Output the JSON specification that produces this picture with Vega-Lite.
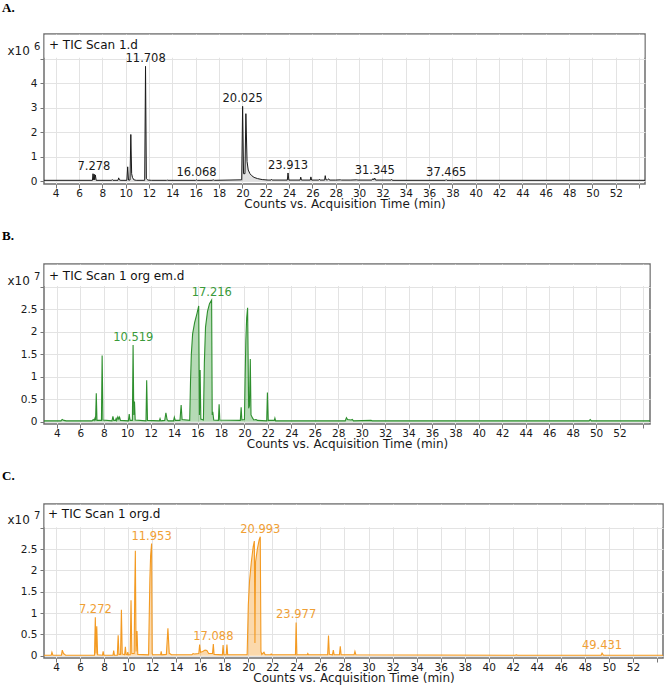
{
"$schema": "https://vega.github.io/schema/vega-lite/v6.json",
"background": "white",
"padding": {"left": 1, "top": 1, "right": 0, "bottom": 0},
"spacing": 18,
"config": {
  "font": "DejaVu Sans",
  "view": {"stroke": "#6e6e6e", "strokeWidth": 1.5},
  "axis": {"grid": true, "gridColor": "#e3e3e3", "gridWidth": 1, "domain": false, "tickColor": "#777", "tickSize": 4, "tickCount": 100, "labelOverlap": false, "labelFontSize": 10.5, "labelColor": "#1a1a1a", "labelPadding": 2, "titleFontSize": 11, "titleFontWeight": "normal", "titleColor": "#1a1a1a", "labelBound": false, "labelFlush": false},
  "axisX": {"titlePadding": 0, "labelPadding": 0, "titleFontSize": 12, "format": "d"},
  "axisY": {"labelPadding": 3, "titleFontSize": 12},
  "title": {"font": "Liberation Serif", "fontWeight": "bold", "fontSize": 13, "anchor": "start", "color": "#000"}
},
"datasets": {
  "one": [{}],
  "a": [{"t":3.0,"v":0.03},{"t":7.15,"v":0.03},{"t":7.2,"v":0.3},{"t":7.25,"v":0.05},{"t":7.3,"v":0.28},{"t":7.34,"v":0.05},{"t":7.4,"v":0.25},{"t":7.47,"v":0.03},{"t":8.8,"v":0.03},{"t":8.85,"v":0.06},{"t":8.9,"v":0.03},{"t":9.34,"v":0.03},{"t":9.4,"v":0.13},{"t":9.47,"v":0.04},{"t":9.6,"v":0.03},{"t":10.1,"v":0.03},{"t":10.17,"v":0.58},{"t":10.24,"v":0.04},{"t":10.37,"v":0.04},{"t":10.44,"v":1.9},{"t":10.51,"v":0.3},{"t":10.58,"v":0.15},{"t":10.7,"v":0.05},{"t":10.9,"v":0.03},{"t":11.63,"v":0.03},{"t":11.7,"v":4.68},{"t":11.77,"v":0.1},{"t":11.9,"v":0.04},{"t":12.2,"v":0.03},{"t":13.5,"v":0.03},{"t":13.55,"v":0.05},{"t":13.6,"v":0.03},{"t":16.0,"v":0.03},{"t":16.07,"v":0.05},{"t":16.14,"v":0.03},{"t":17.4,"v":0.03},{"t":17.5,"v":0.05},{"t":17.6,"v":0.03},{"t":19.94,"v":0.05},{"t":20.02,"v":3.05},{"t":20.1,"v":0.3},{"t":20.22,"v":0.3},{"t":20.3,"v":2.75},{"t":20.4,"v":0.8},{"t":20.5,"v":0.45},{"t":20.65,"v":0.3},{"t":20.8,"v":0.22},{"t":21.0,"v":0.15},{"t":21.3,"v":0.1},{"t":21.7,"v":0.06},{"t":22.2,"v":0.04},{"t":22.45,"v":0.04},{"t":22.5,"v":0.07},{"t":22.55,"v":0.04},{"t":23.85,"v":0.04},{"t":23.91,"v":0.33},{"t":23.98,"v":0.04},{"t":24.95,"v":0.04},{"t":25.0,"v":0.16},{"t":25.06,"v":0.04},{"t":25.82,"v":0.04},{"t":25.87,"v":0.17},{"t":25.93,"v":0.04},{"t":26.55,"v":0.04},{"t":26.6,"v":0.07},{"t":26.65,"v":0.04},{"t":27.05,"v":0.04},{"t":27.1,"v":0.22},{"t":27.16,"v":0.05},{"t":27.3,"v":0.05},{"t":27.4,"v":0.09},{"t":27.46,"v":0.04},{"t":28.0,"v":0.04},{"t":28.4,"v":0.05},{"t":28.5,"v":0.04},{"t":29.3,"v":0.04},{"t":29.8,"v":0.05},{"t":29.9,"v":0.04},{"t":31.1,"v":0.04},{"t":31.2,"v":0.1},{"t":31.26,"v":0.05},{"t":31.345,"v":0.12},{"t":31.41,"v":0.04},{"t":32.75,"v":0.04},{"t":32.8,"v":0.07},{"t":32.85,"v":0.03},{"t":37.4,"v":0.03},{"t":37.46,"v":0.06},{"t":37.52,"v":0.03},{"t":54.5,"v":0.03}],
  "b": [{"t":2.9,"v":0.02},{"t":4.35,"v":0.02},{"t":4.45,"v":0.05},{"t":4.6,"v":0.03},{"t":4.8,"v":0.02},{"t":7.0,"v":0.02},{"t":7.1,"v":0.05},{"t":7.18,"v":0.03},{"t":7.25,"v":0.08},{"t":7.3,"v":0.03},{"t":7.36,"v":0.63},{"t":7.42,"v":0.03},{"t":7.8,"v":0.03},{"t":7.86,"v":1.47},{"t":7.93,"v":0.04},{"t":8.7,"v":0.02},{"t":8.78,"v":0.12},{"t":8.85,"v":0.03},{"t":9.0,"v":0.03},{"t":9.05,"v":0.07},{"t":9.1,"v":0.03},{"t":9.2,"v":0.11},{"t":9.28,"v":0.06},{"t":9.35,"v":0.1},{"t":9.42,"v":0.03},{"t":10.1,"v":0.02},{"t":10.17,"v":0.17},{"t":10.24,"v":0.03},{"t":10.44,"v":0.03},{"t":10.5,"v":1.7},{"t":10.56,"v":0.15},{"t":10.62,"v":0.45},{"t":10.68,"v":0.04},{"t":11.6,"v":0.02},{"t":11.66,"v":0.92},{"t":11.73,"v":0.03},{"t":12.74,"v":0.02},{"t":12.8,"v":0.07},{"t":12.86,"v":0.02},{"t":13.2,"v":0.03},{"t":13.3,"v":0.2},{"t":13.4,"v":0.05},{"t":13.5,"v":0.02},{"t":13.95,"v":0.02},{"t":14.02,"v":0.1},{"t":14.1,"v":0.03},{"t":14.5,"v":0.03},{"t":14.6,"v":0.37},{"t":14.68,"v":0.05},{"t":15.33,"v":0.03},{"t":15.4,"v":0.9},{"t":15.47,"v":1.5},{"t":15.58,"v":1.95},{"t":15.75,"v":2.2},{"t":15.95,"v":2.4},{"t":16.1,"v":2.57},{"t":16.16,"v":0.15},{"t":16.22,"v":1.15},{"t":16.28,"v":0.06},{"t":16.5,"v":0.04},{"t":16.58,"v":1.3},{"t":16.68,"v":2.1},{"t":16.85,"v":2.45},{"t":17.02,"v":2.62},{"t":17.2,"v":2.7},{"t":17.25,"v":0.15},{"t":17.3,"v":0.22},{"t":17.38,"v":0.04},{"t":17.78,"v":0.03},{"t":17.84,"v":0.39},{"t":17.9,"v":0.04},{"t":19.65,"v":0.03},{"t":19.72,"v":0.32},{"t":19.78,"v":0.04},{"t":20.0,"v":0.05},{"t":20.06,"v":1.0},{"t":20.12,"v":1.8},{"t":20.19,"v":2.3},{"t":20.27,"v":2.53},{"t":20.36,"v":0.3},{"t":20.43,"v":0.35},{"t":20.5,"v":1.39},{"t":20.56,"v":0.15},{"t":20.7,"v":0.08},{"t":20.8,"v":0.04},{"t":21.0,"v":0.05},{"t":21.1,"v":0.03},{"t":21.9,"v":0.02},{"t":21.96,"v":0.65},{"t":22.03,"v":0.03},{"t":22.55,"v":0.03},{"t":22.6,"v":0.08},{"t":22.66,"v":0.02},{"t":23.5,"v":0.02},{"t":28.6,"v":0.02},{"t":28.7,"v":0.09},{"t":28.8,"v":0.05},{"t":29.1,"v":0.04},{"t":29.2,"v":0.05},{"t":29.3,"v":0.02},{"t":30.8,"v":0.03},{"t":30.9,"v":0.02},{"t":49.4,"v":0.02},{"t":49.5,"v":0.05},{"t":49.6,"v":0.02},{"t":54.6,"v":0.02}],
  "c": [{"t":3.0,"v":0.01},{"t":3.6,"v":0.01},{"t":3.66,"v":0.08},{"t":3.74,"v":0.01},{"t":4.45,"v":0.01},{"t":4.52,"v":0.13},{"t":4.62,"v":0.05},{"t":4.8,"v":0.01},{"t":7.2,"v":0.01},{"t":7.27,"v":0.9},{"t":7.33,"v":0.05},{"t":7.39,"v":0.69},{"t":7.46,"v":0.02},{"t":7.87,"v":0.01},{"t":7.92,"v":0.1},{"t":7.98,"v":0.01},{"t":8.74,"v":0.01},{"t":8.8,"v":0.12},{"t":8.86,"v":0.01},{"t":9.1,"v":0.01},{"t":9.17,"v":0.48},{"t":9.24,"v":0.03},{"t":9.37,"v":0.03},{"t":9.44,"v":1.08},{"t":9.51,"v":0.04},{"t":9.71,"v":0.02},{"t":9.77,"v":0.21},{"t":9.83,"v":0.03},{"t":9.92,"v":0.02},{"t":9.97,"v":0.08},{"t":10.02,"v":0.02},{"t":10.17,"v":0.02},{"t":10.24,"v":1.3},{"t":10.31,"v":0.05},{"t":10.5,"v":0.05},{"t":10.55,"v":1.5},{"t":10.6,"v":2.46},{"t":10.66,"v":0.1},{"t":10.74,"v":0.58},{"t":10.8,"v":0.03},{"t":11.7,"v":0.02},{"t":11.76,"v":1.0},{"t":11.81,"v":1.8},{"t":11.87,"v":2.35},{"t":11.953,"v":2.63},{"t":12.0,"v":0.05},{"t":12.06,"v":0.02},{"t":12.7,"v":0.02},{"t":12.75,"v":0.1},{"t":12.8,"v":0.02},{"t":13.18,"v":0.03},{"t":13.31,"v":0.64},{"t":13.42,"v":0.06},{"t":13.6,"v":0.02},{"t":15.3,"v":0.02},{"t":15.4,"v":0.05},{"t":15.5,"v":0.04},{"t":15.88,"v":0.05},{"t":15.95,"v":0.26},{"t":16.02,"v":0.08},{"t":16.2,"v":0.1},{"t":16.4,"v":0.13},{"t":16.55,"v":0.12},{"t":16.7,"v":0.05},{"t":17.02,"v":0.05},{"t":17.088,"v":0.27},{"t":17.15,"v":0.03},{"t":17.84,"v":0.02},{"t":17.9,"v":0.25},{"t":17.96,"v":0.02},{"t":18.16,"v":0.02},{"t":18.22,"v":0.26},{"t":18.28,"v":0.02},{"t":19.9,"v":0.02},{"t":20.0,"v":1.2},{"t":20.1,"v":1.75},{"t":20.25,"v":2.2},{"t":20.4,"v":2.55},{"t":20.5,"v":2.69},{"t":20.55,"v":0.3},{"t":20.6,"v":2.2},{"t":20.75,"v":2.5},{"t":20.9,"v":2.72},{"t":20.993,"v":2.79},{"t":21.05,"v":0.1},{"t":21.12,"v":0.03},{"t":21.3,"v":0.08},{"t":21.4,"v":0.02},{"t":21.85,"v":0.02},{"t":21.9,"v":0.04},{"t":21.95,"v":0.02},{"t":23.92,"v":0.02},{"t":23.977,"v":0.78},{"t":24.04,"v":0.02},{"t":24.9,"v":0.02},{"t":24.95,"v":0.05},{"t":25.0,"v":0.02},{"t":26.6,"v":0.02},{"t":26.67,"v":0.47},{"t":26.74,"v":0.03},{"t":27.0,"v":0.02},{"t":27.07,"v":0.13},{"t":27.14,"v":0.02},{"t":27.58,"v":0.02},{"t":27.65,"v":0.22},{"t":27.72,"v":0.02},{"t":28.8,"v":0.02},{"t":28.87,"v":0.1},{"t":28.95,"v":0.02},{"t":42.2,"v":0.01},{"t":42.3,"v":0.02},{"t":42.4,"v":0.01},{"t":49.35,"v":0.01},{"t":49.431,"v":0.06},{"t":49.55,"v":0.01},{"t":54.5,"v":0.01}],
  "la": [{"t":7.278,"v":0.3},{"t":11.708,"v":4.68},{"t":16.068,"v":0.05},{"t":20.025,"v":3.05},{"t":23.913,"v":0.33},{"t":31.345,"v":0.12},{"t":37.465,"v":0.06}],
  "lb": [{"t":10.519,"v":1.7},{"t":17.216,"v":2.7}],
  "lc": [{"t":7.272,"v":0.9},{"t":11.953,"v":2.63},{"t":17.088,"v":0.27},{"t":20.993,"v":2.79},{"t":23.977,"v":0.78},{"t":49.431,"v":0.06}]
},
"vconcat": [
{
  "title": {"text": "A.", "offset": 19, "dx": -5},
  "width": 601, "height": 150,
  "layer": [
    {"data": {"name": "a"}, "mark": {"type": "area", "color": "#666", "opacity": 0.2},
     "encoding": {
       "x": {"field": "t", "type": "quantitative", "scale": {"domain": [3, 54.5], "nice": false, "zero": false},
             "axis": {"values": [4,6,8,10,12,14,16,18,20,22,24,26,28,30,32,34,36,38,40,42,44,46,48,50,52,54], "tickCount": 100, "labelOverlap": false, "format": "d", "labelExpr": "datum.value > 53 ? '' : datum.label", "title": "Counts vs. Acquisition Time (min)"}},
       "y": {"field": "v", "type": "quantitative", "scale": {"domain": [-0.12, 6.0], "nice": false, "zero": false},
             "axis": {"values": [0,1,2,3,4,5], "tickCount": 100, "labelOverlap": false, "format": "~g", "labelExpr": "datum.value > 4.5 ? '' : datum.label", "title": "x10", "titleAngle": 0, "titleAlign": "left", "titleBaseline": "middle", "titleX": -37, "titleY": 16}}}},
    {"data": {"name": "one"}, "mark": {"type": "rect", "color": "white"},
     "encoding": {"x": {"datum": 3.05}, "x2": {"datum": 54.45}, "y": {"datum": 5.03}, "y2": {"datum": 5.97}}},
    {"data": {"name": "a"}, "mark": {"type": "line", "color": "#1a1a1a", "strokeWidth": 1},
     "encoding": {"x": {"field": "t", "type": "quantitative"}, "y": {"field": "v", "type": "quantitative"}}},
    {"data": {"name": "la"}, "mark": {"type": "text", "baseline": "bottom", "dy": -2, "fontSize": 11.5, "color": "#1a1a1a"},
     "encoding": {"x": {"field": "t", "type": "quantitative"}, "y": {"field": "v", "type": "quantitative"}, "text": {"field": "t", "type": "quantitative", "format": ".3f"}}},
    {"data": {"name": "one"}, "mark": {"type": "text", "text": "+ TIC Scan 1.d", "align": "left", "baseline": "middle", "dx": 5, "dy": 11, "fontSize": 12, "color": "#111"},
     "encoding": {"x": {"datum": 3}, "y": {"datum": 6.0}}},
    {"data": {"name": "one"}, "mark": {"type": "text", "text": "6", "align": "left", "baseline": "middle", "dx": -10, "dy": 13, "fontSize": 10, "color": "#1a1a1a"},
     "encoding": {"x": {"datum": 3}, "y": {"datum": 6.0}}}
  ]
},
{
  "title": {"text": "B.", "offset": 21, "dx": -5},
  "width": 606, "height": 160,
  "layer": [
    {"data": {"name": "b"}, "mark": {"type": "area", "color": "#3f9f3f", "opacity": 0.38},
     "encoding": {
       "x": {"field": "t", "type": "quantitative", "scale": {"domain": [2.9, 54.6], "nice": false, "zero": false},
             "axis": {"values": [4,6,8,10,12,14,16,18,20,22,24,26,28,30,32,34,36,38,40,42,44,46,48,50,52,54], "tickCount": 100, "labelOverlap": false, "format": "d", "labelExpr": "datum.value > 53 ? '' : datum.label", "title": "Counts vs. Acquisition Time (min)"}},
       "y": {"field": "v", "type": "quantitative", "scale": {"domain": [-0.05, 3.5], "nice": false, "zero": false},
             "axis": {"values": [0,0.5,1,1.5,2,2.5,3], "tickCount": 100, "labelOverlap": false, "format": "~g", "labelExpr": "datum.value > 2.7 ? '' : datum.label", "title": "x10", "titleAngle": 0, "titleAlign": "left", "titleBaseline": "middle", "titleX": -37, "titleY": 16}}}},
    {"data": {"name": "one"}, "mark": {"type": "rect", "color": "white"},
     "encoding": {"x": {"datum": 2.95}, "x2": {"datum": 54.55}, "y": {"datum": 3.012}, "y2": {"datum": 3.485}}},
    {"data": {"name": "b"}, "mark": {"type": "line", "color": "#2e8f2e", "strokeWidth": 1.1},
     "encoding": {"x": {"field": "t", "type": "quantitative"}, "y": {"field": "v", "type": "quantitative"}}},
    {"data": {"name": "lb"}, "mark": {"type": "text", "baseline": "bottom", "dy": -2, "fontSize": 11.5, "color": "#3a9a3a"},
     "encoding": {"x": {"field": "t", "type": "quantitative"}, "y": {"field": "v", "type": "quantitative"}, "text": {"field": "t", "type": "quantitative", "format": ".3f"}}},
    {"data": {"name": "one"}, "mark": {"type": "text", "text": "+ TIC Scan 1 org em.d", "align": "left", "baseline": "middle", "dx": 5, "dy": 12, "fontSize": 12, "color": "#111"},
     "encoding": {"x": {"datum": 2.9}, "y": {"datum": 3.5}}},
    {"data": {"name": "one"}, "mark": {"type": "text", "text": "7", "align": "left", "baseline": "middle", "dx": -10, "dy": 13, "fontSize": 10, "color": "#1a1a1a"},
     "encoding": {"x": {"datum": 2.9}, "y": {"datum": 3.5}}}
  ]
},
{
  "title": {"text": "C.", "offset": 21, "dx": -5},
  "width": 619, "height": 154,
  "layer": [
    {"data": {"name": "c"}, "mark": {"type": "area", "color": "#f5a030", "opacity": 0.4},
     "encoding": {
       "x": {"field": "t", "type": "quantitative", "scale": {"domain": [3.0, 54.5], "nice": false, "zero": false},
             "axis": {"values": [4,6,8,10,12,14,16,18,20,22,24,26,28,30,32,34,36,38,40,42,44,46,48,50,52,54], "tickCount": 100, "labelOverlap": false, "format": "d", "labelExpr": "datum.value > 53 ? '' : datum.label", "title": "Counts vs. Acquisition Time (min)"}},
       "y": {"field": "v", "type": "quantitative", "scale": {"domain": [-0.055, 3.56], "nice": false, "zero": false},
             "axis": {"values": [0,0.5,1,1.5,2,2.5,3], "tickCount": 100, "labelOverlap": false, "format": "~g", "labelExpr": "datum.value > 2.7 ? '' : datum.label", "title": "x10", "titleAngle": 0, "titleAlign": "left", "titleBaseline": "middle", "titleX": -37, "titleY": 15}}}},
    {"data": {"name": "one"}, "mark": {"type": "rect", "color": "white"},
     "encoding": {"x": {"datum": 3.05}, "x2": {"datum": 54.45}, "y": {"datum": 3.012}, "y2": {"datum": 3.545}}},
    {"data": {"name": "c"}, "mark": {"type": "line", "color": "#f39a22", "strokeWidth": 1.1},
     "encoding": {"x": {"field": "t", "type": "quantitative"}, "y": {"field": "v", "type": "quantitative"}}},
    {"data": {"name": "lc"}, "mark": {"type": "text", "baseline": "bottom", "dy": -2, "fontSize": 11.5, "color": "#f0a035"},
     "encoding": {"x": {"field": "t", "type": "quantitative"}, "y": {"field": "v", "type": "quantitative"}, "text": {"field": "t", "type": "quantitative", "format": ".3f"}}},
    {"data": {"name": "one"}, "mark": {"type": "text", "text": "+ TIC Scan 1 org.d", "align": "left", "baseline": "middle", "dx": 4, "dy": 10, "fontSize": 12, "color": "#111"},
     "encoding": {"x": {"datum": 3.0}, "y": {"datum": 3.56}}},
    {"data": {"name": "one"}, "mark": {"type": "text", "text": "7", "align": "left", "baseline": "middle", "dx": -10, "dy": 12, "fontSize": 10, "color": "#1a1a1a"},
     "encoding": {"x": {"datum": 3.0}, "y": {"datum": 3.56}}}
  ]
}
]
}
